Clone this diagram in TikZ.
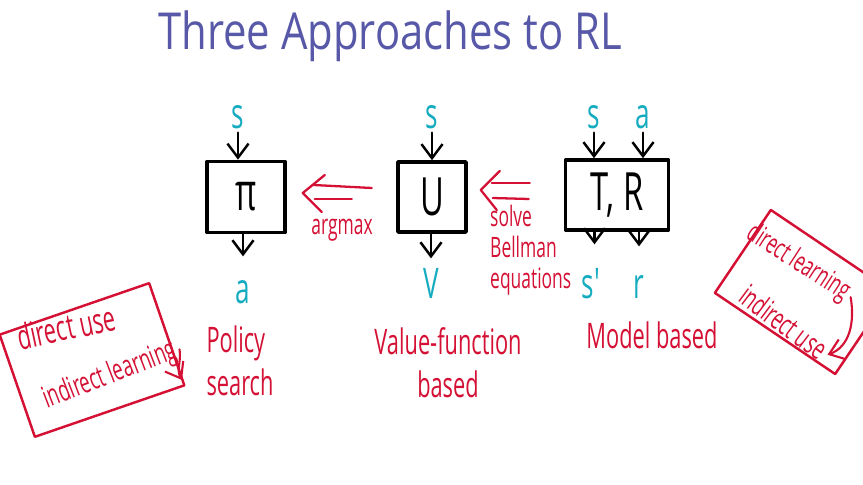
\documentclass[tikz,border=0pt]{standalone}
\usepackage{fontspec}
\newfontfamily\hand[FakeStretch=0.62]{Open Sans}
\newfontfamily\handt[FakeStretch=0.82]{Open Sans}
\usetikzlibrary{arrows.meta}
\definecolor{inkblue}{RGB}{88,88,168}
\definecolor{inkcyan}{RGB}{22,172,192}
\definecolor{inkred}{RGB}{212,16,52}
\tikzset{
  blk/.style={draw,line width=1pt,minimum height=0.7cm,inner sep=1pt,font=\hand\fontsize{15}{18}\selectfont},
  sym/.style={text=inkcyan,inner sep=1pt,text height=6.5pt,text depth=0pt,font=\hand\fontsize{12}{14}\selectfont},
  note/.style={text=inkred,inner sep=1pt,align=center,font=\hand\fontsize{10}{12.2}\selectfont},
  small/.style={font=\hand\fontsize{8}{8.8}\selectfont},
  feed/.style={->,line width=0.7pt},
  arm/.style={draw=inkred,line width=0.65pt},
  memo/.style={draw=inkred,line width=0.7pt}
}
\begin{document}
\begin{tikzpicture}[x=0.01cm,y=-0.01cm,line cap=round,line join=round,>={Straight Barb[length=4pt,width=6pt]}]
  \useasboundingbox (0,0) rectangle (863,485);
  \node[text=inkblue,font=\handt\fontsize{14.5}{17}\selectfont] (title) at (390,36) {Three Approaches to RL};

  \node[blk,minimum width=0.78cm,minimum height=0.71cm] (pi) at (246,197) {π};
  \node[blk,minimum width=0.68cm] (u) at (432,197) {U};
  \node[blk,minimum width=1.03cm] (tr) at (617,195) {T, R};

  \node[sym] (s1) at (238,117) {s};
  \node[sym] (s2) at (432,117) {s};
  \node[sym] (s3) at (594,117) {s};
  \node[sym] (a3) at (643,117) {a};
  \node[sym] (a1) at (243,292) {a};
  \node[sym] (v2) at (431,287) {V};
  \node[sym] (s4) at (591,287) {s'};
  \node[sym] (r4) at (639,287) {r};

  \draw[feed] (s1) -- (s1 |- pi.north);
  \draw[feed] (s2) -- (u.north);
  \draw[feed] (s3) -- (s3 |- tr.north);
  \draw[feed] (a3) -- (a3 |- tr.north);
  \draw[feed,shorten >=0.2cm] (a1 |- pi.south) -- (a1);
  \draw[feed,shorten >=0.13cm] (v2 |- u.south) -- (v2);
  \draw[feed,shorten >=0.27cm] ([xshift=1pt]s4 |- tr.south) -- ([xshift=1pt]s4.north);
  \draw[feed,shorten >=0.25cm] (r4 |- tr.south) -- (r4);

  \coordinate (h1) at ([shift={(16,-4)}]pi.east);
  \draw[arm] ([shift={(69,-5)}]h1) -- ([shift={(11,-8)}]h1);
  \draw[arm] ([shift={(49,6)}]h1) -- ([shift={(12,6)}]h1);
  \draw[arm] ([shift={(22,-18)}]h1) -- (h1) -- ([shift={(19,19)}]h1);
  \coordinate (h2) at ([shift={(13,-7)}]u.east);
  \draw[arm] ([shift={(49,-7)}]h2) -- ([shift={(11,-7)}]h2);
  \draw[arm] ([shift={(48,9)}]h2) -- ([shift={(12,8)}]h2);
  \draw[arm] ([shift={(19,-19)}]h2) -- (h2) -- ([shift={(16,20)}]h2);

  \node[note,small] (amax) at (342,230) {argmax};
  \node[note,small,align=left,anchor=west] (solve) at (486,250) {solve\\Bellman\\equations};
  \node[note,align=left] (pol) at (240,361) {Policy\\search};
  \node[note] (vfb) at (448,363) {Value-function\\based};
  \node[note] (mb) at (652,335) {Model based};

  \node[memo,rotate=19,minimum width=1.58cm,minimum height=1.08cm] (lbox) at (92,360) {};
  \node[note,rotate=12] (du) at (66,327) {direct use};
  \node[note,rotate=21,font=\hand\fontsize{8.5}{10}\selectfont] (il) at (110,376) {indirect learning};
  \coordinate (ltip) at (182,380);
  \draw[->,inkred,line width=0.6pt] (il.east) to[out=-80,in=120] (ltip);

  \node[memo,rotate=-34,minimum width=1.45cm,minimum height=1.0cm] (rbox) at (803,292) {};
  \node[note,small,rotate=-33] (dl) at (798,263) {direct learning};
  \node[note,rotate=-37,font=\hand\fontsize{8.5}{10}\selectfont] (iu) at (784,322) {indirect use};
  \draw[->,inkred,line width=0.6pt] (dl.east) to[out=-80,in=20] (iu.east);
\end{tikzpicture}
\end{document}
